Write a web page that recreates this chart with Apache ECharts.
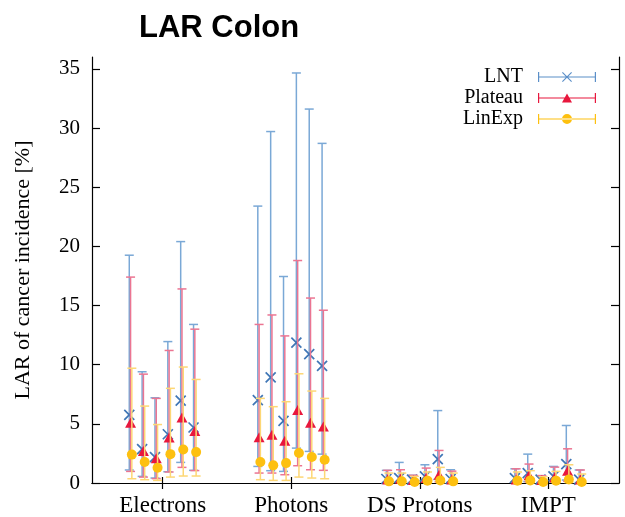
<!DOCTYPE html>
<html>
<head>
<meta charset="utf-8">
<script src="https://cdn.jsdelivr.net/npm/echarts@6/dist/echarts.min.js"></script>
<style>html,body{margin:0;padding:0;background:#fff;}#c{width:625px;height:517px;}</style>
</head>
<body>
<div id="c"></div>
<script>
// ---- data ----
const categories = ['Electrons', 'Photons', 'DS Protons', 'IMPT'];
const yTicks = [0, 5, 10, 15, 20, 25, 30, 35];
const seriesNames = ['LNT', 'Plateau', 'LinExp'];

// 6 cases per category (Electrons x6, Photons x6, DS Protons x6, IMPT x6)
const lntMean = [5.75, 2.86, 2.19, 4.12, 6.96, 4.69,
                 7.0, 8.92, 5.25, 11.87, 10.89, 9.9,
                 0.34, 0.42, 0.28, 0.56, 2.02, 0.34,
                 0.42, 0.84, 0.28, 0.56, 1.6, 0.28];
const lntLow  = [1.1, 0.56, 0.42, 0.95, 1.74, 1.07,
                 1.4, 1.04, 0.98, 2.95, 2.67, 2.44,
                 0.05, 0.06, 0.04, 0.08, 0.3, 0.05,
                 0.06, 0.12, 0.04, 0.08, 0.25, 0.04];
const lntHigh = [19.25, 9.4, 7.2, 11.95, 20.4, 13.4,
                 23.4, 29.7, 17.45, 34.65, 31.6, 28.7,
                 1.07, 1.74, 0.65, 1.54, 6.12, 1.12,
                 1.2, 2.44, 0.62, 1.4, 4.86, 1.1];

const platMean = [5.1, 2.7, 2.1, 3.85, 5.53, 4.4,
                  3.87, 4.07, 3.56, 6.17, 5.1, 4.77,
                  0.3, 0.35, 0.25, 0.42, 0.7, 0.3,
                  0.3, 0.65, 0.25, 0.48, 1.04, 0.3];
const platLow  = [0.98, 0.5, 0.37, 0.93, 1.32, 1.05,
                  0.84, 0.84, 0.7, 1.46, 1.12, 1.07,
                  0.04, 0.05, 0.04, 0.06, 0.1, 0.04,
                  0.04, 0.1, 0.04, 0.07, 0.15, 0.04];
const platHigh = [17.4, 9.2, 7.15, 11.2, 16.4, 13.0,
                  13.4, 14.2, 12.43, 18.8, 15.63, 14.6,
                  1.07, 1.12, 0.65, 1.26, 2.75, 1.0,
                  1.2, 1.6, 0.62, 1.34, 2.89, 1.1];

const linMean = [2.4, 1.77, 1.29, 2.44, 2.83, 2.61,
                 1.77, 1.49, 1.68, 2.53, 2.19, 1.96,
                 0.14, 0.14, 0.08, 0.2, 0.22, 0.14,
                 0.2, 0.22, 0.08, 0.2, 0.3, 0.08];
const linLow  = [0.36, 0.28, 0.22, 0.5, 0.59, 0.59,
                 0.28, 0.22, 0.22, 0.5, 0.42, 0.36,
                 0.02, 0.02, 0.01, 0.03, 0.03, 0.02,
                 0.03, 0.03, 0.01, 0.03, 0.04, 0.01];
const linHigh = [9.7, 6.5, 4.94, 8.0, 9.8, 8.75,
                 7.15, 6.45, 6.87, 9.23, 7.77, 7.15,
                 0.84, 0.84, 0.56, 0.93, 1.32, 0.84,
                 0.93, 1.04, 0.53, 0.98, 1.54, 0.76];

// ---- styles / layout ----
const lineColors = ['#7aa8d6', '#eb7592', '#fdd775'];
const markColors = ['#3f76b6', '#e8173d', '#fdc010'];
const seriesShift = [-0.01, 0, 0.01];
const perGroup = 6;
const subStep = 0.1;

function xPos(i, s) {
  const g = Math.floor(i / perGroup), k = i % perGroup;
  return g + 1 + (k - (perGroup - 1) / 2) * subStep + seriesShift[s];
}

const means = [lntMean, platMean, linMean];
const lows = [lntLow, platLow, linLow];
const highs = [lntHigh, platHigh, linHigh];

const serif = 'Liberation Serif, Times New Roman, serif';

function makeErr(s) {
  const color = lineColors[s];
  return {
    name: seriesNames[s],
    type: 'custom',
    z: 2 + s * 2,
    data: means[s].map((v, i) => [xPos(i, s), lows[s][i], highs[s][i]]),
    encode: { x: 0, y: [1, 2] },
    renderItem: function (params, api) {
      const x = api.value(0), lo = api.value(1), hi = api.value(2);
      const pLo = api.coord([x, lo]), pHi = api.coord([x, hi]);
      const cap = 4.5;
      const st = { stroke: color, lineWidth: 1.5, fill: null };
      return {
        type: 'group',
        children: [
          { type: 'line', shape: { x1: pLo[0], y1: pLo[1], x2: pHi[0], y2: pHi[1] }, style: st },
          { type: 'line', shape: { x1: pLo[0] - cap, y1: pLo[1], x2: pLo[0] + cap, y2: pLo[1] }, style: st },
          { type: 'line', shape: { x1: pHi[0] - cap, y1: pHi[1], x2: pHi[0] + cap, y2: pHi[1] }, style: st }
        ]
      };
    },
    animation: false
  };
}

const markerSymbols = ['path://M0,0 L10,10 M10,0 L0,10', 'triangle', 'circle'];
const markerSizes = [10, [11, 10], 10];
function makeMark(s) {
  const isX = s === 0;
  return {
    name: seriesNames[s],
    type: 'scatter',
    z: 3 + s * 2,
    symbol: markerSymbols[s],
    symbolSize: markerSizes[s],
    data: means[s].map((v, i) => [xPos(i, s), v]),
    itemStyle: isX ? { color: 'rgba(0,0,0,0)', borderColor: markColors[s], borderWidth: 1.7, opacity: 1 }
                   : { color: markColors[s], opacity: 1 },
    emphasis: { disabled: true },
    animation: false
  };
}

const legendIcons = [
  'path://M0,4.4H58V5.6H0Z M0,0H1.2V10H0Z M56.8,0H58V10H56.8Z M24,0.8L24.8,0L34,9.2L33.2,10Z M33.2,0L34,0.8L24.8,10L24,9.2Z',
  'path://M0,4.4H58V5.6H0Z M0,0H1.2V10H0Z M56.8,0H58V10H56.8Z M24,9.6L29,0.6L34,9.6Z',
  'path://M0,4.4H58V5.6H0Z M0,0H1.2V10H0Z M56.8,0H58V10H56.8Z M24,5A5,5,0,1,0,34,5A5,5,0,1,0,24,5Z'
];
const legendTops = [62, 83, 104];
const legends = seriesNames.map((n, s) => ({
  data: [{ name: n, icon: legendIcons[s], itemStyle: { color: s === 0 ? '#5b8fc8' : markColors[s], borderWidth: 0, borderColor: 'rgba(0,0,0,0)' } }],
  right: 24, top: legendTops[s], orient: 'vertical', align: 'right',
  itemWidth: 58, itemHeight: 10, selectedMode: false,
  formatter: name => name + '  ',
  textStyle: { fontFamily: serif, fontSize: 20, color: '#000' }
}));

const series = [];
for (let s = 0; s < 3; s++) { series.push(makeErr(s)); series.push(makeMark(s)); }

const catTicks = categories.map((c, i) => i + 1);
const axisLineStyle = { color: '#000', width: 1.2 };

const option = {
  animation: false,
  backgroundColor: '#fff',
  title: {
    text: 'LAR Colon', left: 134, top: 8,
    textStyle: { fontFamily: 'Liberation Sans, Arial, sans-serif', fontWeight: 'bold', fontSize: 31, color: '#000' }
  },
  legend: legends,
  grid: { left: 92, right: 6, top: 57, bottom: 32, containLabel: false },
  xAxis: [
    {
      type: 'value', min: 0.45, max: 4.55, position: 'bottom',
      axisLine: { show: true, lineStyle: axisLineStyle },
      axisTick: { show: true, inside: true, length: 6, customValues: catTicks, lineStyle: axisLineStyle },
      axisLabel: { show: true, customValues: catTicks, formatter: v => categories[Math.round(v) - 1], fontFamily: serif, fontSize: 23, color: '#000', margin: 11 },
      splitLine: { show: false }
    },
    {
      type: 'value', min: 0.45, max: 4.55, position: 'top',
      axisLine: { show: true, lineStyle: axisLineStyle },
      axisTick: { show: true, inside: true, length: 6, customValues: catTicks, lineStyle: axisLineStyle },
      axisLabel: { show: false },
      splitLine: { show: false }
    }
  ],
  yAxis: [
    {
      type: 'value', min: 0, max: 36, position: 'left',
      name: 'LAR of cancer incidence [%]', nameLocation: 'middle', nameGap: 58,
      nameTextStyle: { fontFamily: serif, fontSize: 22, color: '#000' },
      axisLine: { show: true, lineStyle: axisLineStyle },
      axisTick: { show: true, inside: true, length: 8, customValues: yTicks, lineStyle: axisLineStyle },
      axisLabel: { show: true, customValues: yTicks, fontFamily: serif, fontSize: 21, color: '#000', margin: 12 },
      splitLine: { show: false }
    },
    {
      type: 'value', min: 0, max: 36, position: 'right',
      axisLine: { show: true, lineStyle: axisLineStyle },
      axisTick: { show: true, inside: true, length: 8, customValues: yTicks, lineStyle: axisLineStyle },
      axisLabel: { show: false },
      splitLine: { show: false }
    }
  ],
  series: series
};

const chart = echarts.init(document.getElementById('c'), null, { renderer: 'canvas' });
chart.setOption(option);
</script>
</body>
</html>
